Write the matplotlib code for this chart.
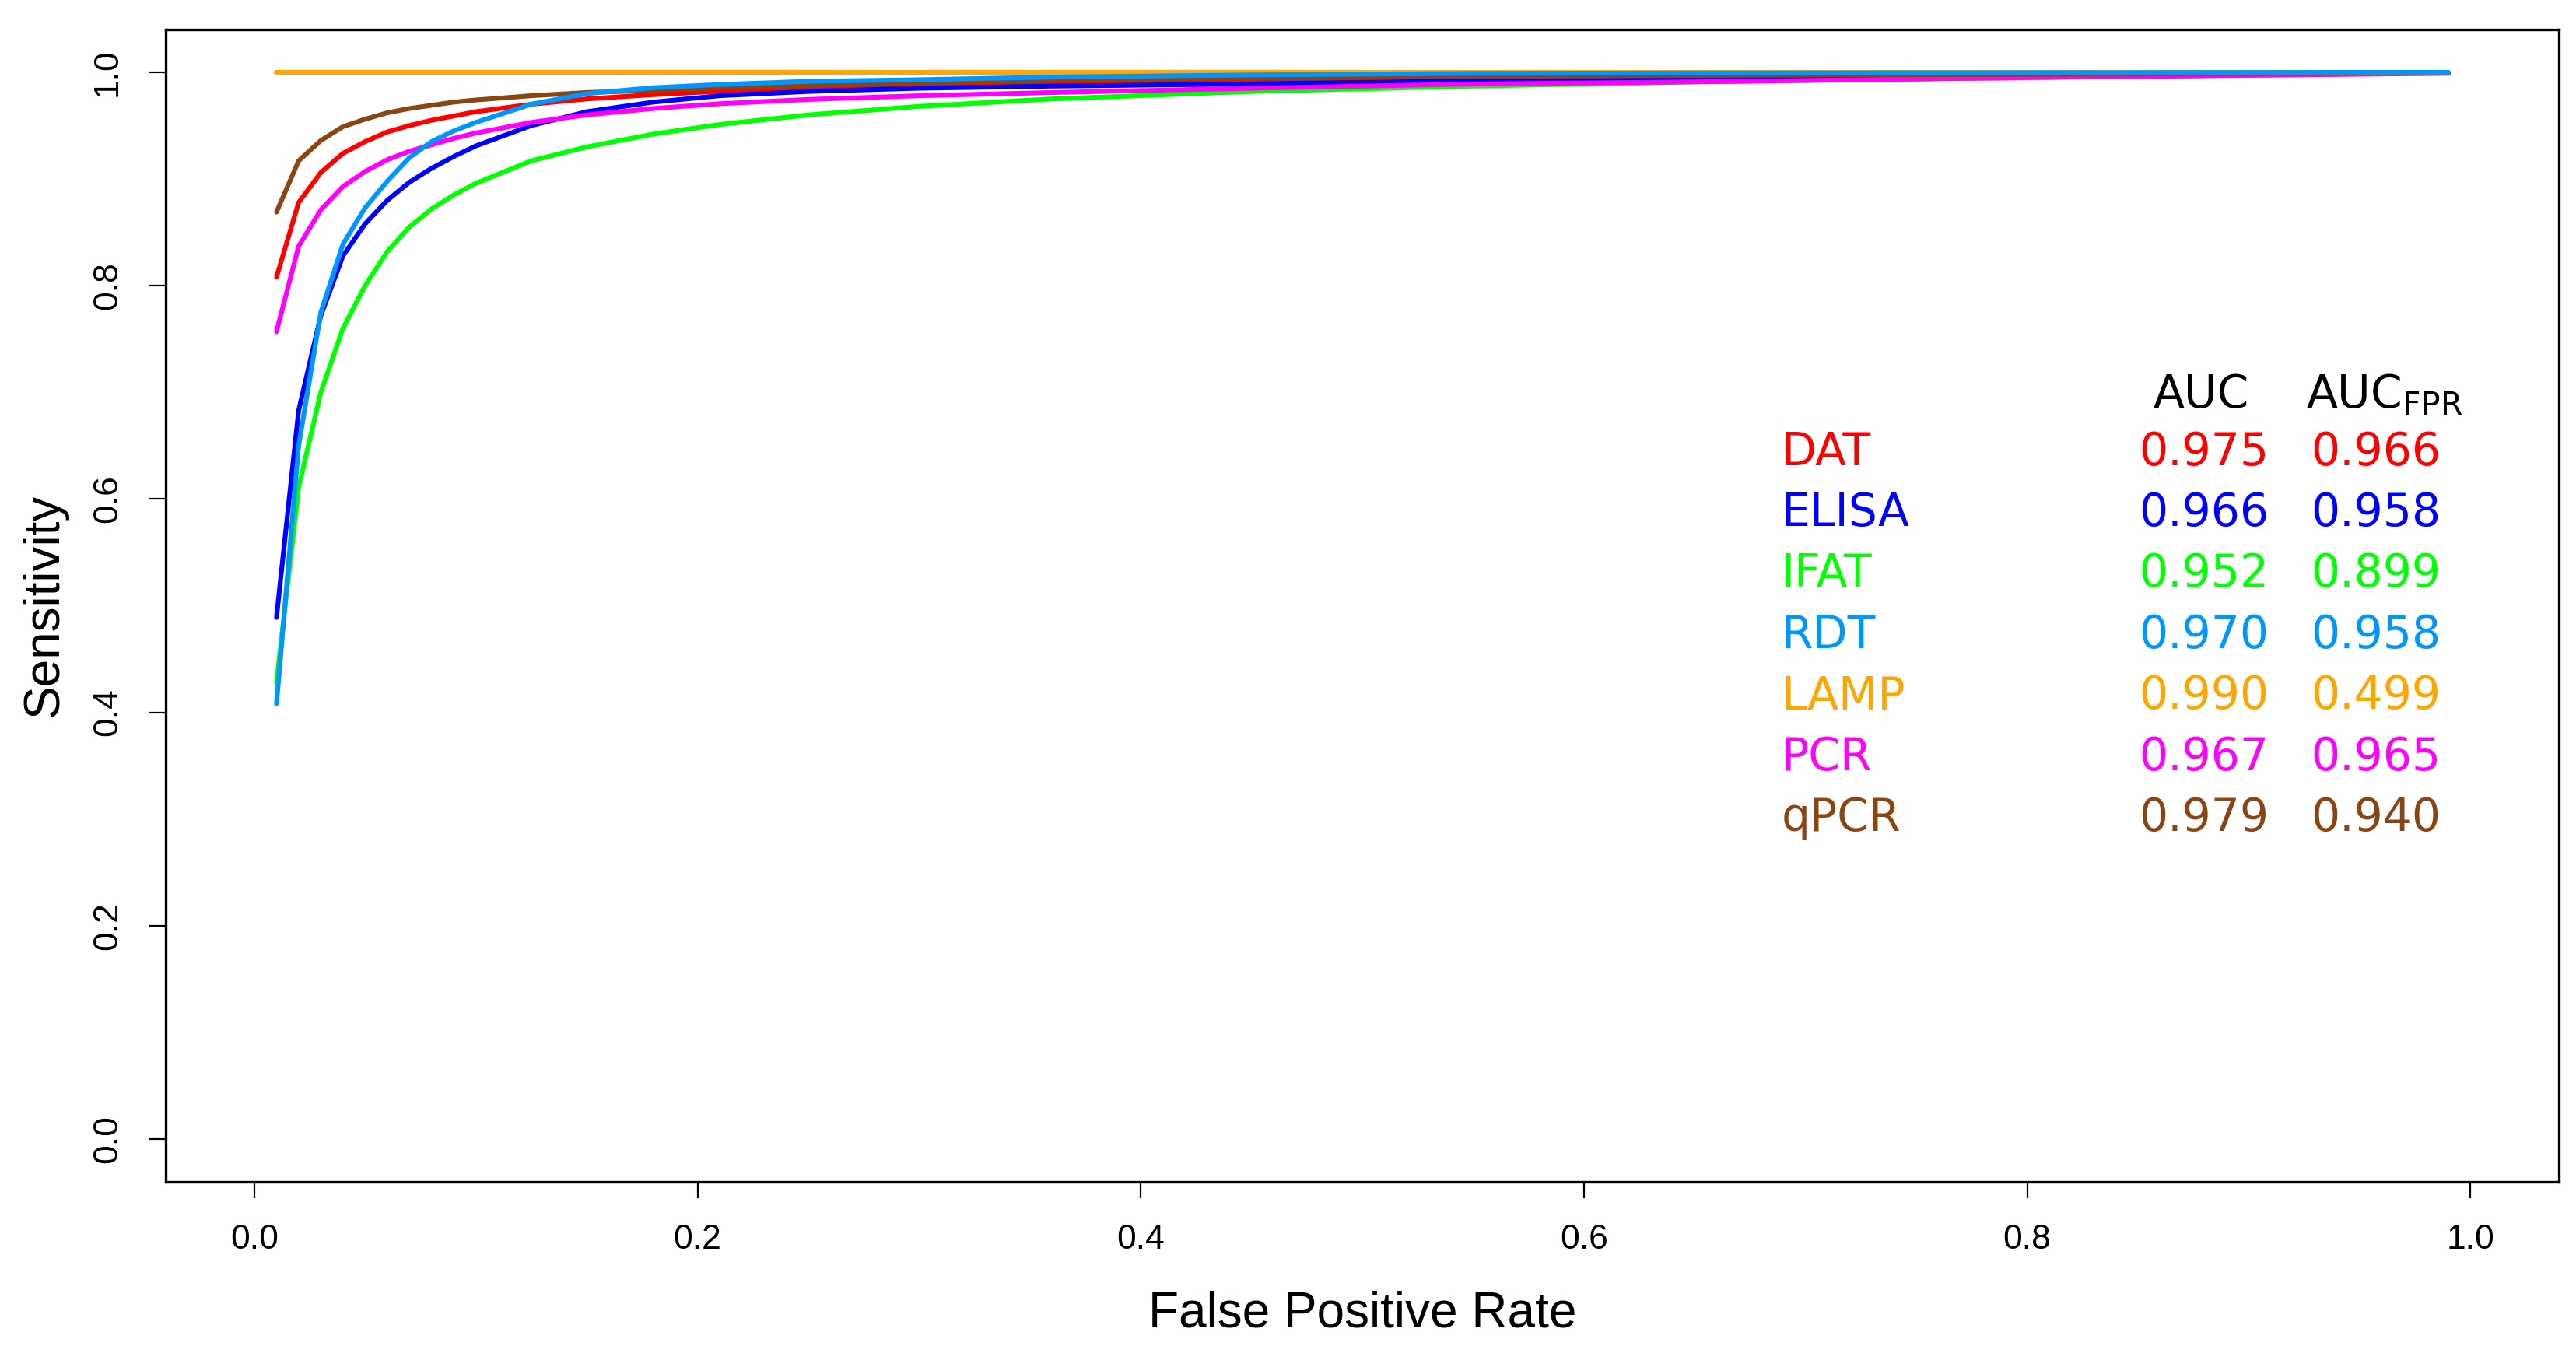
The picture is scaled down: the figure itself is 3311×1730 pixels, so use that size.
import matplotlib
matplotlib.use("Agg")
import matplotlib.pyplot as plt

# false positive rate grid
fpr = [0.01, 0.02, 0.03, 0.04, 0.05, 0.06, 0.07, 0.08, 0.09, 0.10,
       0.125, 0.15, 0.18, 0.21, 0.25, 0.30, 0.36, 0.45, 0.55, 0.65, 0.80, 0.99]

sens_dat = [0.808, 0.878, 0.906, 0.924, 0.935, 0.944, 0.950, 0.955, 0.959, 0.963,
            0.970, 0.975, 0.979, 0.9822, 0.9848, 0.987, 0.989, 0.991, 0.993, 0.995, 0.997, 0.9995]
sens_elisa = [0.489, 0.683, 0.772, 0.828, 0.858, 0.880, 0.897, 0.910, 0.921, 0.931,
              0.950, 0.963, 0.972, 0.978, 0.982, 0.985, 0.987, 0.989, 0.992, 0.994, 0.997, 0.9995]
sens_ifat = [0.428, 0.611, 0.700, 0.760, 0.800, 0.832, 0.855, 0.872, 0.885, 0.896,
             0.917, 0.930, 0.942, 0.951, 0.960, 0.968, 0.975, 0.982, 0.987, 0.991, 0.995, 0.9995]
sens_rdt = [0.408, 0.650, 0.775, 0.839, 0.873, 0.898, 0.920, 0.935, 0.945, 0.953,
            0.970, 0.980, 0.9855, 0.9885, 0.9915, 0.993, 0.9955, 0.9975, 0.999, 0.9993, 0.9996, 0.9999]
sens_lamp = [1.0] * len(fpr)
sens_pcr = [0.757, 0.837, 0.871, 0.893, 0.907, 0.918, 0.926, 0.932, 0.938, 0.943,
            0.953, 0.960, 0.966, 0.9705, 0.9745, 0.978, 0.981, 0.985, 0.989, 0.991, 0.995, 0.999]
sens_qpcr = [0.869, 0.917, 0.936, 0.949, 0.956, 0.962, 0.966, 0.969, 0.972, 0.974,
             0.978, 0.981, 0.983, 0.9855, 0.9875, 0.990, 0.9925, 0.9944, 0.996, 0.997, 0.998, 0.9995]

tests = ["DAT", "ELISA", "IFAT", "RDT", "LAMP", "PCR", "qPCR"]
auc = ["0.975", "0.966", "0.952", "0.970", "0.990", "0.967", "0.979"]
auc_fpr = ["0.966", "0.958", "0.899", "0.958", "0.499", "0.965", "0.940"]
colors = ["#ff0000", "#0000ff", "#00ff00", "#0096ff", "#ffa500", "#ff00ff", "#8b4513"]

curves = dict(zip(tests, [sens_dat, sens_elisa, sens_ifat, sens_rdt,
                          sens_lamp, sens_pcr, sens_qpcr]))
col = dict(zip(tests, colors))

fig = plt.figure(figsize=(16.56, 8.65), dpi=200)
ax = fig.add_axes([0.0643, 0.122, 0.9288, 0.856])

# drawing order so the light blue ends up on top like in the original
for name in ["LAMP", "IFAT", "DAT", "ELISA", "PCR", "qPCR", "RDT"]:
    ax.plot(fpr, curves[name], color=col[name], lw=2.2,
            solid_capstyle="round", solid_joinstyle="round")

ax.set_xlim(-0.04, 1.04)
ax.set_ylim(-0.04, 1.04)
ticks = [0.0, 0.2, 0.4, 0.6, 0.8, 1.0]
ax.set_xticks(ticks)
ax.set_yticks(ticks)
ax.set_xticklabels(["%.1f" % t for t in ticks], family="Liberation Sans", fontsize=16)
ax.set_yticklabels(["%.1f" % t for t in ticks], family="Liberation Sans", fontsize=16,
                   rotation=90, va="center")
ax.tick_params(length=7.5, width=0.8, pad=12, direction="out")
for s in ax.spines.values():
    s.set_linewidth(1.2)

ax.set_xlabel("False Positive Rate", family="Liberation Sans", fontsize=23)
ax.set_ylabel("Sensitivity", family="Liberation Sans", fontsize=23)
ax.xaxis.set_label_coords(0.5, -0.1145)
ax.xaxis.label.set_va("center")
ax.yaxis.set_label_coords(-0.0507, 0.5)
ax.yaxis.label.set_va("center")

# AUC table
fs = 21
ax.text(0.857, 0.698, "AUC", color="black", fontsize=fs, family="DejaVu Sans", va="center")
ax.text(0.926, 0.698, r"AUC$_{\mathrm{FPR}}$", color="black", fontsize=fs,
        family="DejaVu Sans", va="center")
for i, name in enumerate(tests):
    y = 0.644 - i * 0.0572
    ax.text(0.689, y, name, color=col[name], fontsize=fs, family="DejaVu Sans", va="center")
    ax.text(0.8505, y, auc[i], color=col[name], fontsize=fs, family="DejaVu Sans", va="center")
    ax.text(0.928, y, auc_fpr[i], color=col[name], fontsize=fs, family="DejaVu Sans", va="center")

fig.savefig("out.png", dpi=200)
